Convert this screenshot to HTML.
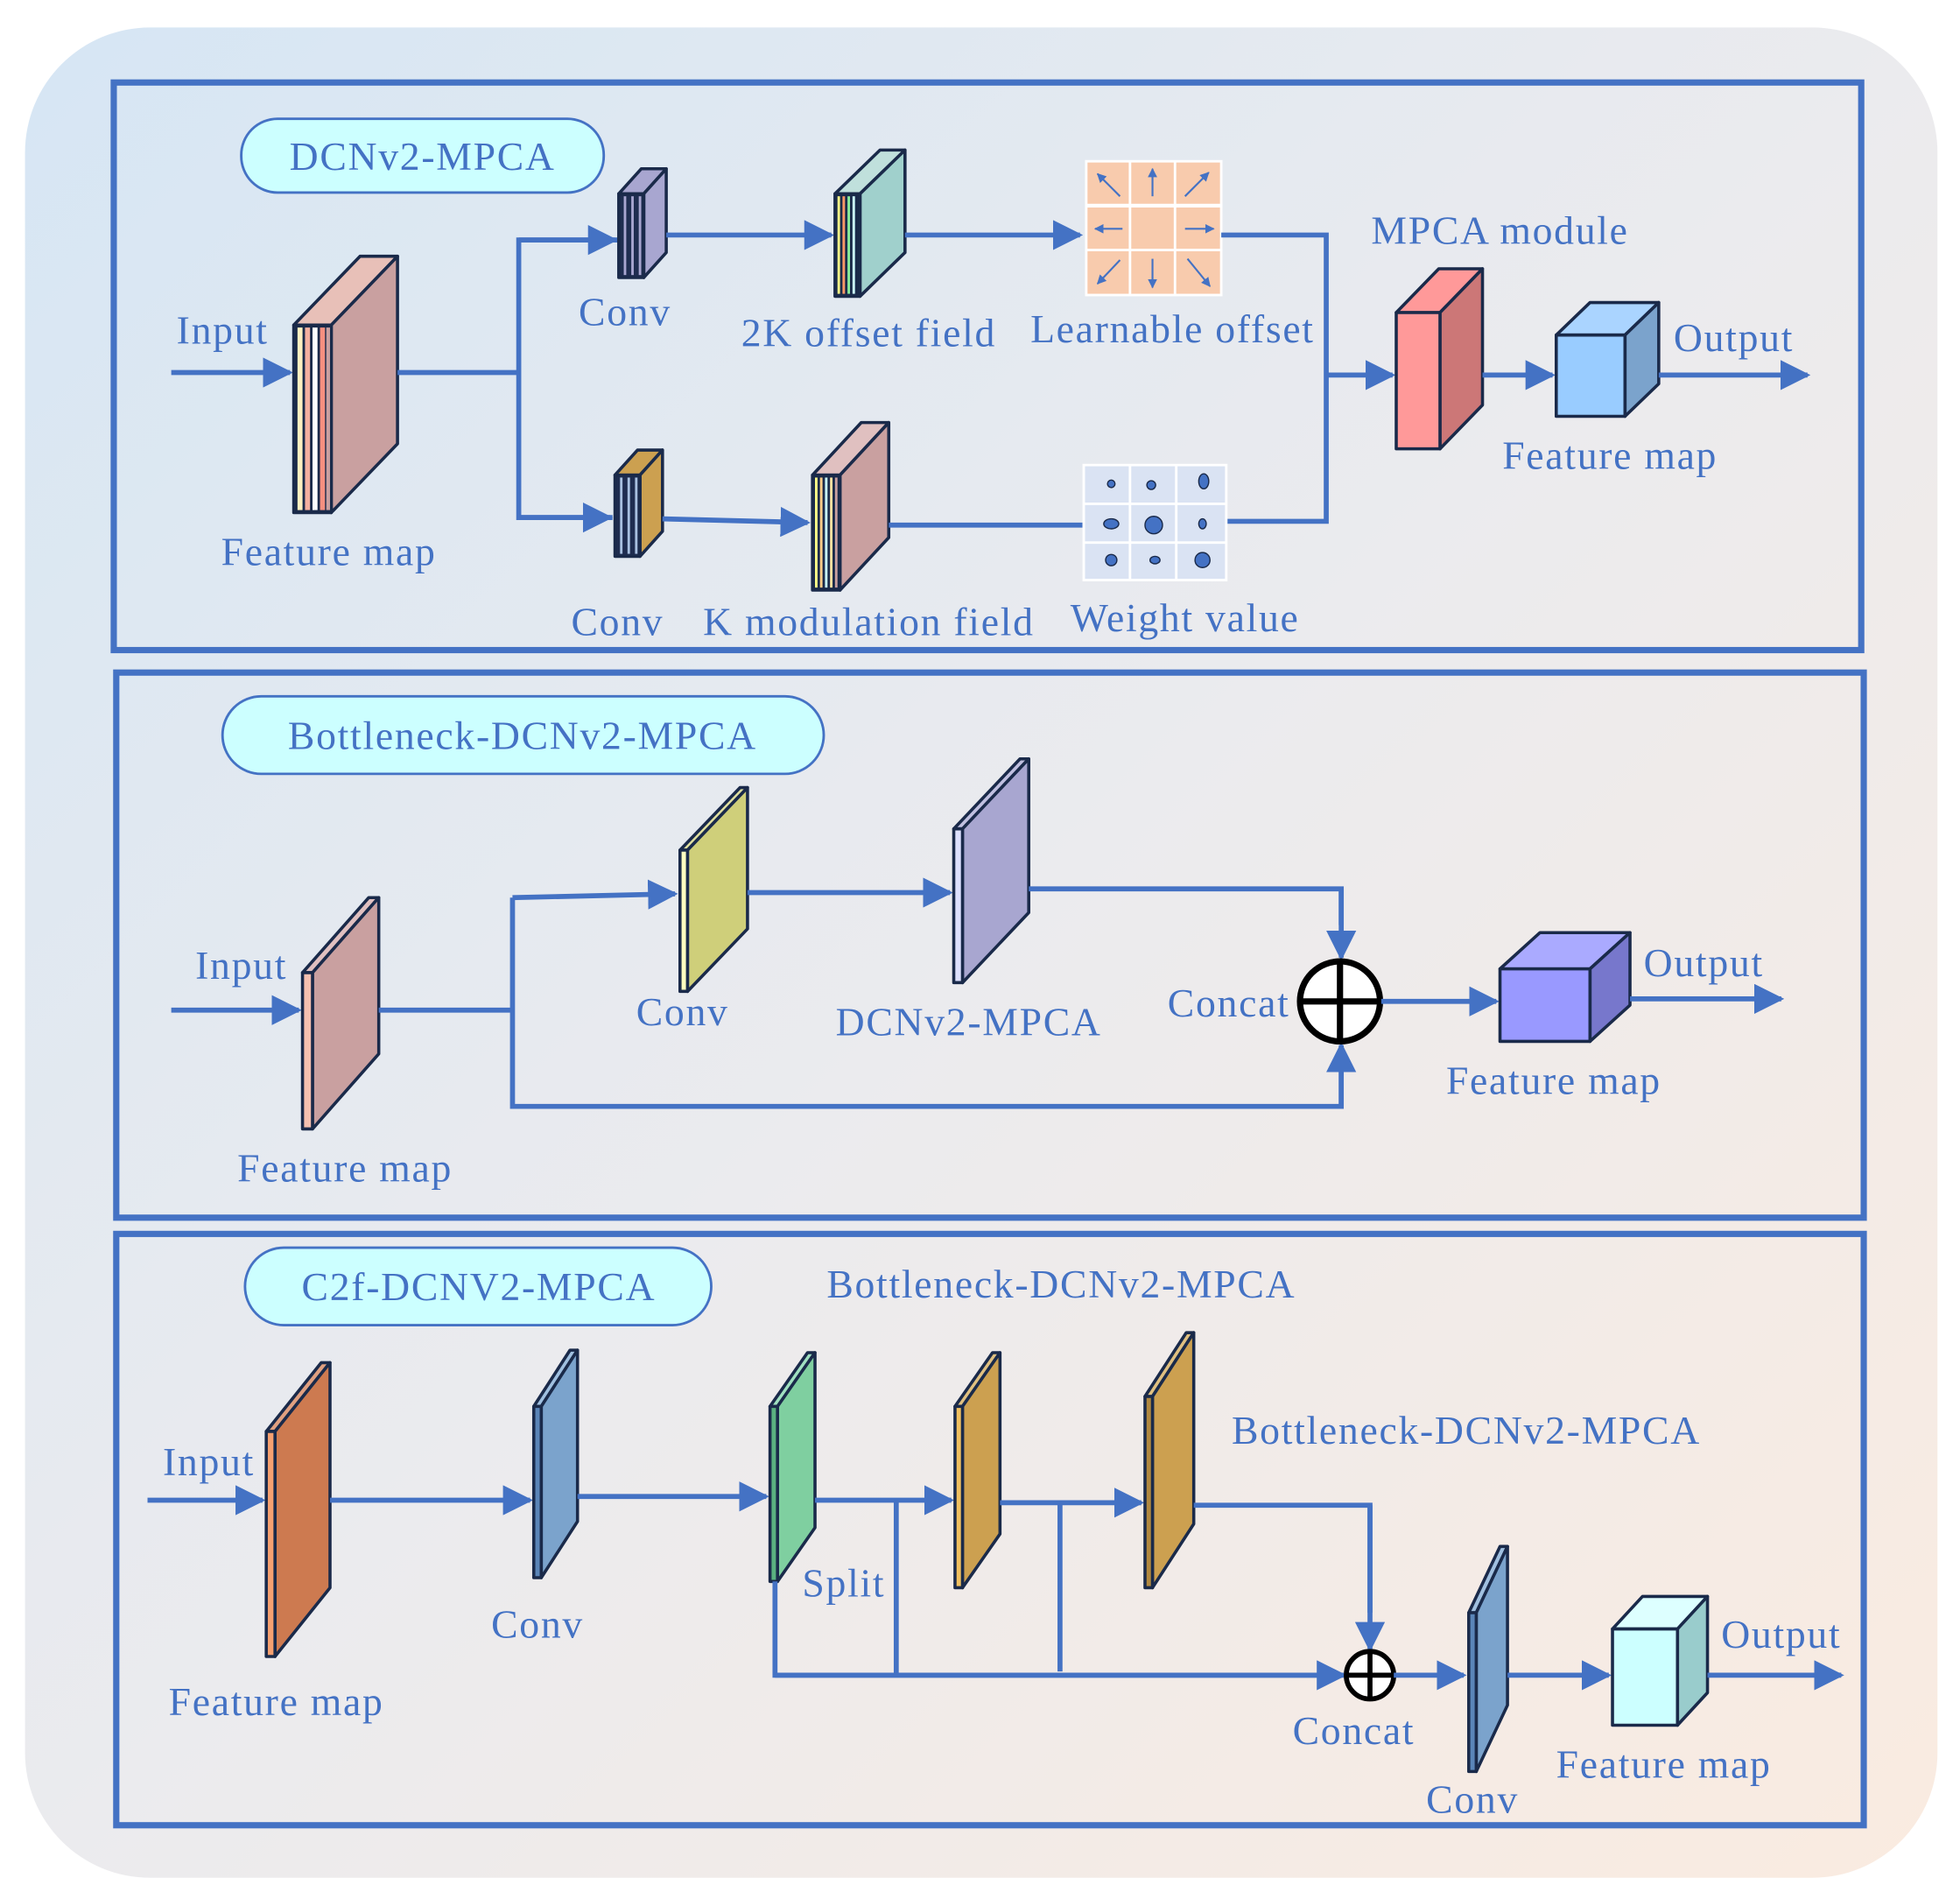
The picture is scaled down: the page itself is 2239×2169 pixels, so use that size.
<!DOCTYPE html>
<html><head><meta charset="utf-8"><style>
html,body{margin:0;padding:0;background:#fff;width:2239px;height:2169px;overflow:hidden}
svg{display:block}
text{font-family:"Liberation Serif",serif;fill:#4472c4;font-size:32px;letter-spacing:1.2px}
.ln{stroke:#4472c4;stroke-width:4;fill:none}
.sl{stroke:#1a2a4a;stroke-width:2.5;stroke-linejoin:round}
</style></head><body>
<svg width="2239" height="2169" viewBox="0 0 1568 1519" xmlns="http://www.w3.org/2000/svg">
<defs>
<linearGradient id="bg" x1="0" y1="0" x2="1" y2="1">
<stop offset="0" stop-color="#d6e6f4"/><stop offset="0.5" stop-color="#ebebee"/><stop offset="1" stop-color="#faebe0"/>
</linearGradient>
<marker id="ar" viewBox="0 0 10 10" refX="9" refY="5" markerWidth="6" markerHeight="6" orient="auto"><path d="M0,0 L10,5 L0,10 Z" fill="#4472c4"/></marker>
<marker id="sa" viewBox="0 0 10 10" refX="9" refY="5" markerWidth="5" markerHeight="5" orient="auto"><path d="M0,0 L10,5 L0,10 Z" fill="#4472c4"/></marker>
</defs>
<rect x="20" y="22" width="1530" height="1480" rx="100" fill="url(#bg)"/>
<rect x="91" y="66" width="1398" height="454" fill="none" stroke="#4472c4" stroke-width="5"/>
<rect x="93" y="538" width="1398" height="436" fill="none" stroke="#4472c4" stroke-width="5"/>
<rect x="93" y="987" width="1398" height="473" fill="none" stroke="#4472c4" stroke-width="5"/>

<!-- ===== Panel 1 ===== -->
<rect x="193" y="95" width="290" height="59" rx="29" fill="#ccffff" stroke="#4472c4" stroke-width="2"/>
<text x="338" y="136" text-anchor="middle">DCNv2-MPCA</text>
<text x="178" y="275" text-anchor="middle">Input</text>
<line class="ln" x1="137" y1="298" x2="232" y2="298" marker-end="url(#ar)"/>
<polygon class="sl" points="235,260 288,205 318,205 265,260" fill="#e8c0b8"/>
<polygon class="sl" points="265,260 318,205 318,355 265,410" fill="#c9a0a0"/>
<rect class="sl" x="235" y="260" width="30" height="150" fill="#1a2a4a"/>
<rect x="238" y="262" width="4" height="146" fill="#fff0c0"/><rect x="244" y="262" width="4" height="146" fill="#f5b0a0"/><rect x="250" y="262" width="4" height="146" fill="#ffffff"/><rect x="256" y="262" width="4" height="146" fill="#f59080"/><rect x="261" y="262" width="3" height="146" fill="#c9a0a0"/>
<text x="263" y="452" text-anchor="middle">Feature map</text>
<polyline class="ln" points="318,298 415,298"/>
<polyline class="ln" points="495,192 415,192 415,414 490,414"/>
<line class="ln" x1="415" y1="192" x2="492" y2="192" marker-end="url(#ar)"/>
<line class="ln" x1="415" y1="414" x2="488" y2="414" marker-end="url(#ar)"/>
<polygon class="sl" points="495,155 513,135 533,135 515,155" fill="#a8a6d0"/>
<polygon class="sl" points="515,155 533,135 533,202 515,222" fill="#a8a6d0"/>
<rect class="sl" x="495" y="155" width="20" height="67" fill="#1f2d50"/>
<rect x="499" y="157" width="2" height="63" fill="#a8a6d0"/><rect x="505" y="157" width="2" height="63" fill="#a8a6d0"/><rect x="511" y="157" width="2" height="63" fill="#a8a6d0"/>
<text x="500" y="260" text-anchor="middle">Conv</text>
<line class="ln" x1="533" y1="188" x2="665" y2="188" marker-end="url(#ar)"/>
<polygon class="sl" points="668,155 704,120 724,120 688,155" fill="#c0e0dc"/>
<polygon class="sl" points="688,155 724,120 724,202 688,237" fill="#a0d0cc"/>
<rect class="sl" x="668" y="155" width="20" height="82" fill="#1a2a4a"/>
<rect x="670" y="157" width="2" height="78" fill="#ffff88"/><rect x="674" y="157" width="2" height="78" fill="#ff9966"/><rect x="678" y="157" width="2" height="78" fill="#88ee99"/><rect x="682" y="157" width="2" height="78" fill="#ccffff"/>
<text x="695" y="277" text-anchor="middle">2K offset field</text>
<line class="ln" x1="724" y1="188" x2="864" y2="188" marker-end="url(#ar)"/>
<rect x="868" y="128" width="110" height="109" fill="#fff"/>
<g fill="#f8cbad">
<rect x="870" y="130" width="33" height="33"/><rect x="905" y="130" width="34" height="33"/><rect x="941" y="130" width="35" height="33"/>
<rect x="870" y="166" width="33" height="33"/><rect x="905" y="166" width="34" height="33"/><rect x="941" y="166" width="35" height="33"/>
<rect x="870" y="201" width="33" height="34"/><rect x="905" y="201" width="34" height="34"/><rect x="941" y="201" width="35" height="34"/>
</g>
<g stroke="#4472c4" stroke-width="1.5" marker-end="url(#sa)">
<line x1="896" y1="157" x2="878" y2="139"/><line x1="922" y1="157" x2="922" y2="135"/><line x1="948" y1="157" x2="967" y2="138"/>
<line x1="898" y1="183" x2="876" y2="183"/><line x1="948" y1="183" x2="971" y2="183"/>
<line x1="896" y1="208" x2="878" y2="227"/><line x1="922" y1="207" x2="922" y2="230"/><line x1="950" y1="207" x2="968" y2="229"/>
</g>
<text x="938" y="274" text-anchor="middle">Learnable offset</text>
<polyline class="ln" points="977,188 1061,188 1061,417 981,417"/>
<line class="ln" x1="1061" y1="300" x2="1114" y2="300" marker-end="url(#ar)"/>
<polygon class="sl" points="1117,250 1151,215 1186,215 1152,250" fill="#ff9999"/>
<polygon class="sl" points="1152,250 1186,215 1186,324 1152,359" fill="#cc7777"/>
<rect class="sl" x="1117" y="250" width="35" height="109" fill="#ff9999"/>
<text x="1200" y="195" text-anchor="middle">MPCA module</text>
<line class="ln" x1="1186" y1="300" x2="1242" y2="300" marker-end="url(#ar)"/>
<polygon class="sl" points="1245,268 1272,242 1327,242 1300,268" fill="#aad4ff"/>
<polygon class="sl" points="1300,268 1327,242 1327,307 1300,333" fill="#7ba3cc"/>
<rect class="sl" x="1245" y="268" width="55" height="65" fill="#99ccff"/>
<text x="1288" y="375" text-anchor="middle">Feature map</text>
<line class="ln" x1="1327" y1="300" x2="1446" y2="300" marker-end="url(#ar)"/>
<text x="1387" y="281" text-anchor="middle">Output</text>
<polygon class="sl" points="492,380 510,360 530,360 512,380" fill="#cca050"/>
<polygon class="sl" points="512,380 530,360 530,425 512,445" fill="#cca050"/>
<rect class="sl" x="492" y="380" width="20" height="65" fill="#1f2d50"/>
<rect x="496" y="382" width="2" height="61" fill="#a8c0e0"/><rect x="502" y="382" width="2" height="61" fill="#a8c0e0"/><rect x="508" y="382" width="2" height="61" fill="#a8c0e0"/>
<text x="494" y="508" text-anchor="middle">Conv</text>
<line class="ln" x1="530" y1="415" x2="646" y2="418" marker-end="url(#ar)"/>
<polygon class="sl" points="650,380 689,338 711,338 672,380" fill="#e0c0c0"/>
<polygon class="sl" points="672,380 711,338 711,430 672,472" fill="#c9a0a0"/>
<rect class="sl" x="650" y="380" width="22" height="92" fill="#1a2a4a"/>
<rect x="652" y="382" width="2" height="88" fill="#ffff88"/><rect x="656" y="382" width="2" height="88" fill="#ffcc88"/><rect x="660" y="382" width="2" height="88" fill="#ccffff"/><rect x="664" y="382" width="2" height="88" fill="#ffe0a0"/><rect x="668" y="382" width="2" height="88" fill="#c9a0a0"/>
<text x="695" y="508" text-anchor="middle">K modulation field</text>
<line class="ln" x1="711" y1="420" x2="866" y2="420"/>
<rect x="866" y="371" width="116" height="94" fill="#fff"/>
<g fill="#dae3f3">
<rect x="868" y="373" width="35" height="29"/><rect x="905" y="373" width="35" height="29"/><rect x="942" y="373" width="38" height="29"/>
<rect x="868" y="404" width="35" height="29"/><rect x="905" y="404" width="35" height="29"/><rect x="942" y="404" width="38" height="29"/>
<rect x="868" y="435" width="35" height="28"/><rect x="905" y="435" width="35" height="28"/><rect x="942" y="435" width="38" height="28"/>
</g>
<g fill="#4472c4" stroke="#1a2a4a" stroke-width="1">
<circle cx="889" cy="387" r="3"/><circle cx="921" cy="388" r="3.5"/><ellipse cx="963" cy="385" rx="4" ry="6"/>
<ellipse cx="889" cy="419" rx="6" ry="4"/><circle cx="923" cy="420" r="7"/><ellipse cx="962" cy="419" rx="3" ry="4"/>
<circle cx="889" cy="448" r="4.5"/><ellipse cx="924" cy="448" rx="4" ry="3"/><circle cx="962" cy="448" r="6"/>
</g>
<text x="948" y="505" text-anchor="middle">Weight value</text>

<!-- ===== Panel 2 ===== -->
<rect x="178" y="557" width="481" height="62" rx="31" fill="#ccffff" stroke="#4472c4" stroke-width="2"/>
<text x="418" y="599" text-anchor="middle">Bottleneck-DCNv2-MPCA</text>
<text x="193" y="783" text-anchor="middle">Input</text>
<line class="ln" x1="137" y1="808" x2="239" y2="808" marker-end="url(#ar)"/>
<polygon class="sl" points="242,778 295,718 303,718 250,778" fill="#e0c0c0"/>
<polygon class="sl" points="250,778 303,718 303,843 250,903" fill="#c9a0a0"/>
<rect class="sl" x="242" y="778" width="8" height="125" fill="#f5c0b0"/>
<text x="276" y="945" text-anchor="middle">Feature map</text>
<polyline class="ln" points="303,808 410,808"/>
<polyline class="ln" points="410,718 410,885 1073,885 1073,840"/>
<line class="ln" x1="1073" y1="885" x2="1073" y2="836" marker-end="url(#ar)"/>
<line class="ln" x1="410" y1="718" x2="540" y2="715" marker-end="url(#ar)"/>
<polygon class="sl" points="544,680 592,630 598,630 550,680" fill="#e0e0a0"/>
<polygon class="sl" points="550,680 598,630 598,743 550,793" fill="#cfcf7a"/>
<rect class="sl" x="544" y="680" width="6" height="113" fill="#ffffc0"/>
<text x="546" y="820" text-anchor="middle">Conv</text>
<line class="ln" x1="598" y1="714" x2="760" y2="714" marker-end="url(#ar)"/>
<polygon class="sl" points="763,663 816,607 823,607 770,663" fill="#c0c0e0"/>
<polygon class="sl" points="770,663 823,607 823,730 770,786" fill="#a8a6d0"/>
<rect class="sl" x="763" y="663" width="7" height="123" fill="#dde0ff"/>
<text x="775" y="828" text-anchor="middle">DCNv2-MPCA</text>
<polyline class="ln" points="823,711 1073,711 1073,740"/>
<line class="ln" x1="1073" y1="711" x2="1073" y2="766" marker-end="url(#ar)"/>
<circle cx="1072" cy="801" r="32" fill="#fff" stroke="#000" stroke-width="5"/>
<line x1="1040" y1="801" x2="1104" y2="801" stroke="#000" stroke-width="5"/>
<line x1="1072" y1="769" x2="1072" y2="833" stroke="#000" stroke-width="5"/>
<text x="983" y="813" text-anchor="middle">Concat</text>
<line class="ln" x1="1105" y1="801" x2="1197" y2="801" marker-end="url(#ar)"/>
<polygon class="sl" points="1200,775 1232,746 1304,746 1272,775" fill="#aaaaff"/>
<polygon class="sl" points="1272,775 1304,746 1304,804 1272,833" fill="#7777cc"/>
<rect class="sl" x="1200" y="775" width="72" height="58" fill="#9999ff"/>
<text x="1243" y="875" text-anchor="middle">Feature map</text>
<line class="ln" x1="1304" y1="799" x2="1425" y2="799" marker-end="url(#ar)"/>
<text x="1363" y="781" text-anchor="middle">Output</text>

<!-- ===== Panel 3 ===== -->
<rect x="196" y="998" width="373" height="62" rx="31" fill="#ccffff" stroke="#4472c4" stroke-width="2"/>
<text x="383" y="1040" text-anchor="middle">C2f-DCNV2-MPCA</text>
<text x="849" y="1038" text-anchor="middle">Bottleneck-DCNv2-MPCA</text>
<text x="167" y="1180" text-anchor="middle">Input</text>
<line class="ln" x1="118" y1="1200" x2="210" y2="1200" marker-end="url(#ar)"/>
<polygon class="sl" points="213,1145 257,1090 264,1090 220,1145" fill="#e0a080"/>
<polygon class="sl" points="220,1145 264,1090 264,1270 220,1325" fill="#cd7a50"/>
<rect class="sl" x="213" y="1145" width="7" height="180" fill="#f5a070"/>
<text x="221" y="1372" text-anchor="middle">Feature map</text>
<line class="ln" x1="264" y1="1200" x2="424" y2="1200" marker-end="url(#ar)"/>
<polygon class="sl" points="427,1125 456,1080 462,1080 433,1125" fill="#a0c0e0"/>
<polygon class="sl" points="433,1125 462,1080 462,1217 433,1262" fill="#7ba3cc"/>
<rect class="sl" x="427" y="1125" width="6" height="137" fill="#5a85b8"/>
<text x="430" y="1310" text-anchor="middle">Conv</text>
<line class="ln" x1="462" y1="1197" x2="613" y2="1197" marker-end="url(#ar)"/>
<polygon class="sl" points="616,1125 646,1082 652,1082 622,1125" fill="#a0e0c0"/>
<polygon class="sl" points="622,1125 652,1082 652,1222 622,1265" fill="#7fcfa0"/>
<rect class="sl" x="616" y="1125" width="6" height="140" fill="#5ab080"/>
<text x="675" y="1277" text-anchor="middle">Split</text>
<line class="ln" x1="652" y1="1200" x2="761" y2="1200" marker-end="url(#ar)"/>
<polygon class="sl" points="764,1125 794,1082 800,1082 770,1125" fill="#e0c080"/>
<polygon class="sl" points="770,1125 800,1082 800,1227 770,1270" fill="#cca050"/>
<rect class="sl" x="764" y="1125" width="6" height="145" fill="#f0c060"/>
<line class="ln" x1="800" y1="1202" x2="913" y2="1202" marker-end="url(#ar)"/>
<polygon class="sl" points="916,1117 949,1066 955,1066 922,1117" fill="#e0c080"/>
<polygon class="sl" points="922,1117 955,1066 955,1219 922,1270" fill="#cca050"/>
<rect class="sl" x="916" y="1117" width="6" height="153" fill="#b08840"/>
<text x="1173" y="1155" text-anchor="middle">Bottleneck-DCNv2-MPCA</text>
<polyline class="ln" points="955,1204 1096,1204 1096,1290"/>
<line class="ln" x1="1096" y1="1204" x2="1096" y2="1319" marker-end="url(#ar)"/>
<polyline class="ln" points="620,1265 620,1340 1060,1340"/>
<line class="ln" x1="620" y1="1340" x2="1075" y2="1340" marker-end="url(#ar)"/>
<line class="ln" x1="717" y1="1200" x2="717" y2="1340"/>
<line class="ln" x1="848" y1="1202" x2="848" y2="1337"/>
<circle cx="1096" cy="1340" r="19" fill="#fff" stroke="#000" stroke-width="4"/>
<line x1="1077" y1="1340" x2="1115" y2="1340" stroke="#000" stroke-width="4"/>
<line x1="1096" y1="1321" x2="1096" y2="1359" stroke="#000" stroke-width="4"/>
<text x="1083" y="1395" text-anchor="middle">Concat</text>
<line class="ln" x1="1115" y1="1340" x2="1171" y2="1340" marker-end="url(#ar)"/>
<polygon class="sl" points="1175,1290 1200,1237 1206,1237 1181,1290" fill="#a0c0e0"/>
<polygon class="sl" points="1181,1290 1206,1237 1206,1364 1181,1417" fill="#7ba3cc"/>
<rect class="sl" x="1175" y="1290" width="6" height="127" fill="#5a85b8"/>
<text x="1178" y="1450" text-anchor="middle">Conv</text>
<line class="ln" x1="1206" y1="1340" x2="1287" y2="1340" marker-end="url(#ar)"/>
<polygon class="sl" points="1290,1303 1314,1277 1366,1277 1342,1303" fill="#ddffff"/>
<polygon class="sl" points="1342,1303 1366,1277 1366,1354 1342,1380" fill="#99cccc"/>
<rect class="sl" x="1290" y="1303" width="52" height="77" fill="#ccffff"/>
<text x="1331" y="1422" text-anchor="middle">Feature map</text>
<line class="ln" x1="1366" y1="1340" x2="1473" y2="1340" marker-end="url(#ar)"/>
<text x="1425" y="1318" text-anchor="middle">Output</text>
</svg>
</body></html>
